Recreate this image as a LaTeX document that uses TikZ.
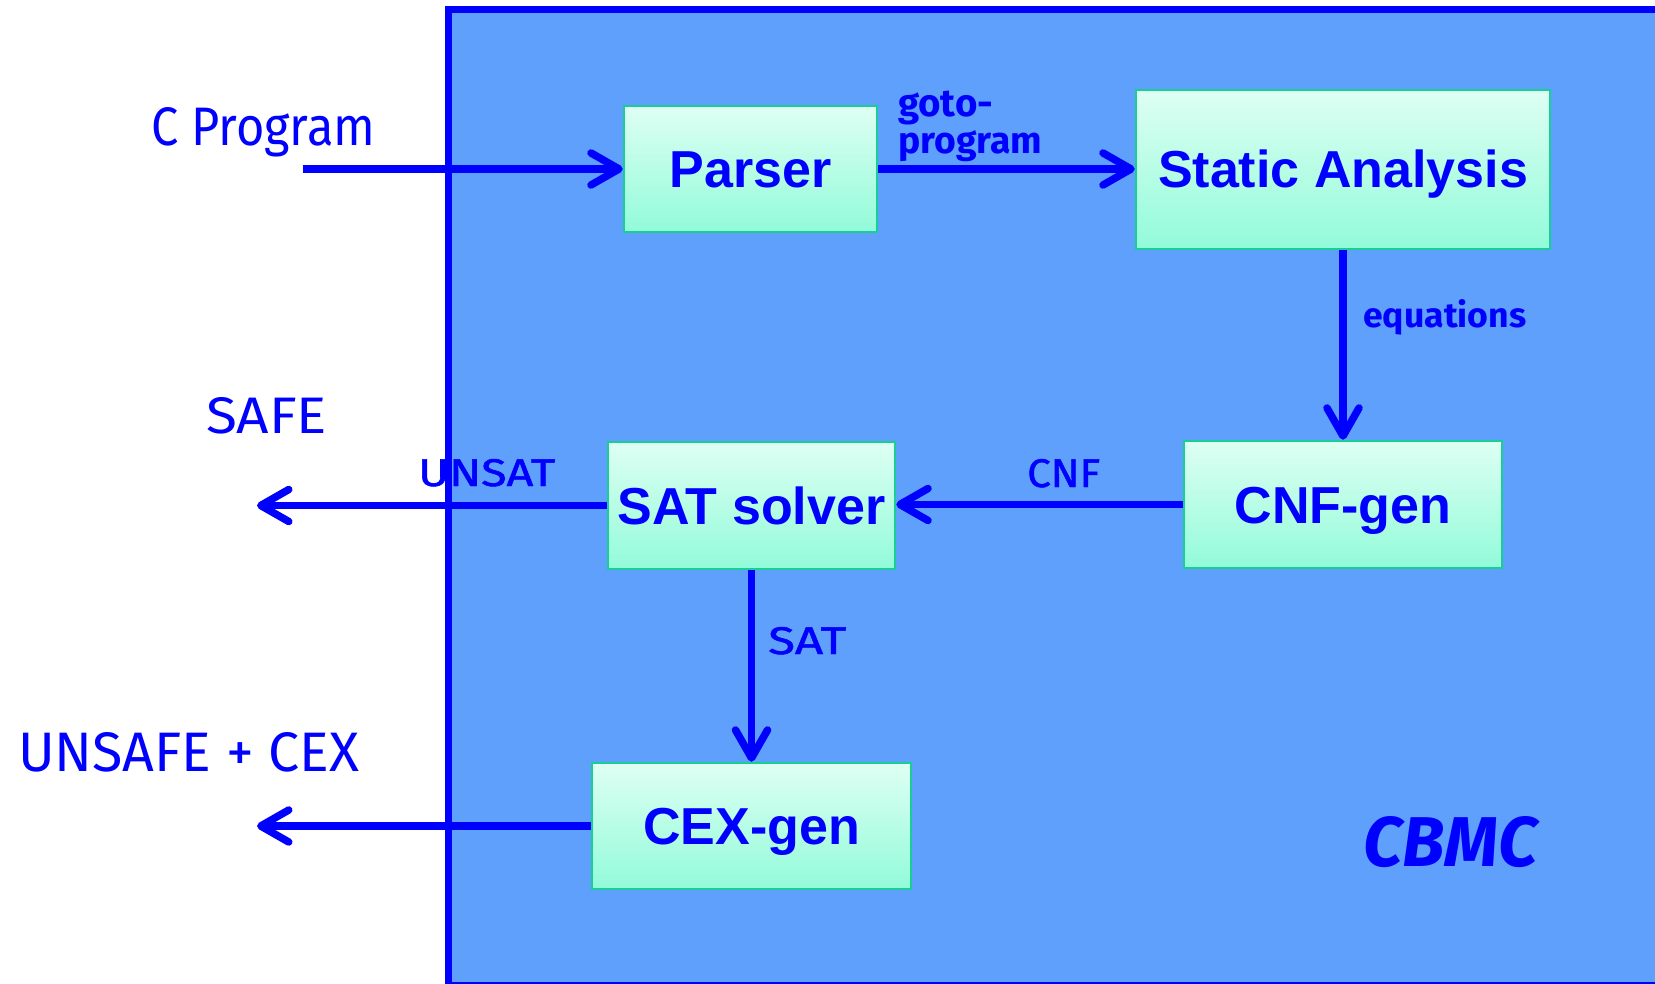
\documentclass[tikz,border=0pt]{standalone}
\usepackage{graphicx}
\usepackage{fontspec}
\setmainfont{Liberation Sans}
\newfontfamily\hand{Fira Sans}
\newfontfamily\handmed[FakeBold=1.2]{Fira Sans}
\usetikzlibrary{arrows.meta}

\definecolor{panelfill}{RGB}{94,160,251}
\definecolor{ink}{RGB}{0,0,255}
\definecolor{boxtop}{RGB}{222,255,243}
\definecolor{boxbot}{RGB}{146,251,217}
\definecolor{boxedge}{RGB}{25,205,150}

\tikzset{
  stage/.style={draw=boxedge, line width=2.5pt, top color=boxtop, bottom color=boxbot,
    text=ink, font=\bfseries\fontsize{52}{60}\selectfont, inner sep=0pt,
    text height=37pt, text depth=0pt, anchor=center},
  flow/.style={draw=ink, line width=7.5pt,
    -{Straight Barb[length=28pt,width=32pt,round]}},
  lbl/.style={inner sep=0pt, anchor=base west, text=ink},
}

\begin{document}
\begin{tikzpicture}[x=1pt,y=-1pt]
  \useasboundingbox (0,0) rectangle (1655,984);
  \clip (0,0) rectangle (1655,984);

  % CBMC panel
  \draw[ink, line width=7pt, fill=panelfill] (448,9.5) rectangle (1700,985);

  % processing stages
  \node[stage, minimum width=253pt, minimum height=126pt] (parser) at (750.5,169) {Parser};
  \node[stage, minimum width=414pt, minimum height=159pt] (static) at (1343,169.5) {Static Analysis};
  \node[stage, minimum width=318pt, minimum height=127pt] (cnfgen) at (1343,504.5) {CNF-gen};
  \node[stage, minimum width=287pt, minimum height=127pt] (satsolver) at (751.5,505.5) {SAT solver};
  \node[stage, minimum width=319pt, minimum height=126pt] (cexgen) at (751.5,826) {CEX-gen};

  % free ends of the outer arrows
  \coordinate (input) at (303,169);
  \coordinate (safeout) at (257,505.5);
  \coordinate (unsafeout) at (257,826);

  % connectors
  \draw[flow] (input) -- (parser.west);
  \draw[flow] (parser.east) -- (parser.east -| static.west);
  \draw[flow] (static.south) -- (cnfgen.north);
  \draw[flow] (cnfgen.west) -- (cnfgen.west -| satsolver.east);
  \draw[flow] (satsolver.west) -- (safeout);
  \draw[flow] (satsolver.south) -- (cexgen.north);
  \draw[flow] (cexgen.west) -- (unsafeout);

  % labels
  \node[lbl] (lprog) at (151,146) {\resizebox{224pt}{38pt}{\hand C Program}};
  \node[lbl] (lsafe) at (206,433) {\resizebox{121pt}{36pt}{\hand SAFE}};
  \node[lbl] (lunsafe) at (18,771) {\resizebox{341pt}{39pt}{\hand UNSAFE + CEX}};
  \node[lbl] (lunsat) at (418,486) {\resizebox{137pt}{27pt}{\handmed UNSAT}};
  \node[lbl] (lsat) at (768,654) {\resizebox{78pt}{27pt}{\handmed SAT}};
  \node[lbl] (lcnf) at (1027,487) {\resizebox{73pt}{28pt}{\handmed CNF}};
  \node[lbl] (lgoto) at (898,117) {\resizebox{95pt}{!}{\hand\bfseries goto-}};
  \node[lbl] (lgprog) at (898,154) {\resizebox{144pt}{!}{\hand\bfseries program}};
  \node[lbl] (leq) at (1363,328) {\resizebox{163pt}{28pt}{\hand\bfseries equations}};
  \node[lbl] (lcbmc) at (1363,866) {\resizebox{174pt}{50pt}{\hand\bfseries\itshape CBMC}};
\end{tikzpicture}
\end{document}
